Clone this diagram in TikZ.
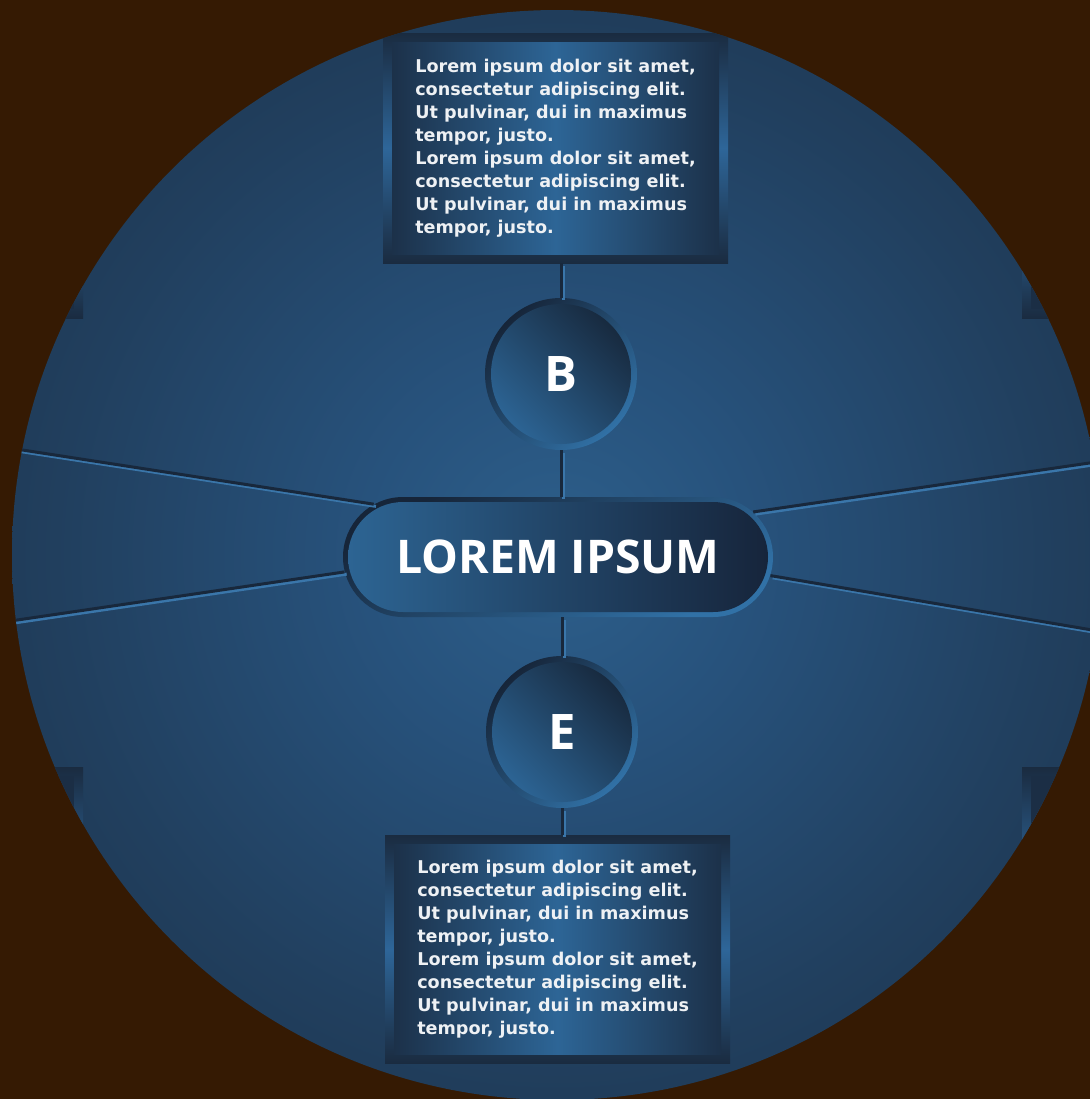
\documentclass[tikz,border=0pt]{standalone}
\usepackage{fontspec}
\newfontfamily\panelfont{DejaVu Sans}
\newfontfamily\headfont{Open Sans}
\usetikzlibrary{shapes.misc}

\definecolor{bgbrown}{HTML}{351A03}
\definecolor{discCore}{HTML}{2D5F8B}
\definecolor{discMid}{HTML}{27527C}
\definecolor{discOuter}{HTML}{213F5E}
\definecolor{discRim}{HTML}{1C3249}
\definecolor{frameDark}{HTML}{1A2B40}
\definecolor{frameLite}{HTML}{2E6699}
\definecolor{panelDark}{HTML}{1B2E45}
\definecolor{panelLite}{HTML}{2D6596}
\definecolor{panelText}{HTML}{EEF1F4}
\definecolor{rimDark}{HTML}{162539}
\definecolor{rimLite}{HTML}{3171A6}
\definecolor{coreDark}{HTML}{17283C}
\definecolor{coreLite}{HTML}{2D6697}
\definecolor{hubLite}{HTML}{2D6594}
\definecolor{hubDark}{HTML}{16243A}
\definecolor{grooveDark}{HTML}{18283C}
\definecolor{grooveLite}{HTML}{3A76AA}

\pgfdeclareradialshading{discglow}{\pgfpoint{0bp}{0bp}}{color(0bp)=(discCore); color(9bp)=(discMid); color(23bp)=(discOuter); color(35bp)=(discRim); color(50bp)=(discRim)}

\newcommand{\panelcopy}{Lorem ipsum dolor sit amet,\\ consectetur adipiscing elit.\\ Ut pulvinar, dui in maximus\\ tempor, justo.\\
Lorem ipsum dolor sit amet,\\ consectetur adipiscing elit.\\ Ut pulvinar, dui in maximus\\ tempor, justo.}

\tikzset{
  framefill/.style={top color=frameDark, bottom color=frameDark, middle color=frameLite},
  panel/.style={rectangle, inner sep=0pt, minimum width=172.5pt, minimum height=115pt, framefill,
    path picture={\shade[left color=panelDark, right color=panelDark, middle color=panelLite]
      ([shift={(4.5pt,-4.5pt)}]path picture bounding box.north west) rectangle
      ([shift={(-4.5pt,4.5pt)}]path picture bounding box.south east);},
    text=panelText, align=left, font=\panelfont\bfseries\fontsize{8.8}{11.5}\selectfont},
  letter/.style={circle, inner sep=0pt, minimum size=76pt,
    top color=rimDark, bottom color=rimLite, shading angle=45,
    path picture={\shade[top color=coreDark, bottom color=coreLite, shading angle=-45]
      (path picture bounding box.center) circle (35pt);},
    text=white, font=\headfont\bfseries\fontsize{24.5}{28}\selectfont},
  hubstyle/.style={rounded rectangle, inner sep=0pt, minimum width=215pt, minimum height=60pt,
    top color=rimDark, bottom color=rimLite, shading angle=30,
    path picture={\shade[rounded corners=27.5pt, left color=hubLite, right color=hubDark]
      ([shift={(2.5pt,-2.5pt)}]path picture bounding box.north west) rectangle
      ([shift={(-2.5pt,2.5pt)}]path picture bounding box.south east);},
    text=white, font=\headfont\bfseries\fontsize{23.2}{27}\selectfont},
  groove/.style={draw=grooveDark, line width=1.5pt,
    preaction={draw=grooveLite, line width=1.5pt, transform canvas={shift={(1.1pt,-1.1pt)}}}}
}

\begin{document}
\begin{tikzpicture}[x=0.5pt,y=-0.5pt]
\useasboundingbox (0,0) rectangle (1090,1099);
\fill[bgbrown] (0,0) rectangle (1090,1099);

\begin{scope}
\clip (557,555) circle (272.5pt);
\shade[shading=discglow] (557,555) circle (272.5pt);

\shade[framefill] (-100,120) rectangle (83,318);
\fill[panelDark] (-100,129) rectangle (74,309);
\shade[framefill] (1022,120) rectangle (1200,318);
\fill[panelDark] (1031,129) rectangle (1200,309);
\shade[framefill] (-100,767) rectangle (83,990);
\fill[panelDark] (-100,776) rectangle (74,981);
\shade[framefill] (1022,767) rectangle (1200,990);
\fill[panelDark] (1031,776) rectangle (1200,981);

\node[panel] (topbox) at (555.5,148) {\panelcopy};
\node[panel, minimum height=114pt] (botbox) at (557.5,949) {\panelcopy};
\node[letter] (B) at (561,374) {B};
\node[letter] (E) at (562,732) {E};
\node[hubstyle] (hub) at (558,557) {LOREM IPSUM};

\coordinate (lu) at (-10,445);
\coordinate (ll) at (-10,624);
\coordinate (ru) at (1110,460);
\coordinate (rl) at (1110,633);

\draw[groove] (B.north |- topbox.south) -- (B.north);
\draw[groove] (B.south) -- (B.south |- hub.north);
\draw[groove] (E.north |- hub.south) -- (E.north);
\draw[groove] (E.south) -- (E.south |- botbox.north);
\draw[groove] (hub.164) -- (lu);
\draw[groove] (hub.184) -- (ll);
\draw[groove] (hub.13) -- (ru);
\draw[groove] (hub.355) -- (rl);
\end{scope}
\end{tikzpicture}
\end{document}
